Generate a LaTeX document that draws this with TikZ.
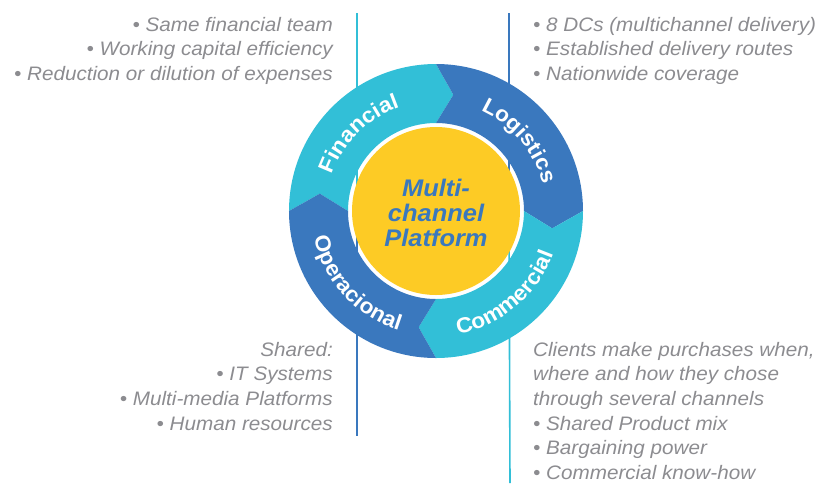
\documentclass[tikz,border=0pt]{standalone}
\usepackage{fontspec}
\setmainfont{Liberation Sans}
\newfontfamily\widesans[FakeStretch=1.06]{Liberation Sans}
\usepackage{tikz}
\usetikzlibrary{decorations.text,positioning}
\definecolor{Cyan}{HTML}{32BFD7}
\definecolor{Blue}{HTML}{3A78BE}
\definecolor{Hub}{HTML}{FDCB25}
\definecolor{Note}{HTML}{8C8C90}
\tikzset{
  note/.style={text=Note,font=\widesans\fontsize{19.5}{24.6}\selectfont\itshape,inner sep=0pt},
  ringtext/.style={decorate,decoration={text along path,text align=center,text color=white,
    text={|\widesans\fontsize{21.5}{21.5}\selectfont\bfseries|#1}}},
  divider/.style={line width=1.6pt}
}

\begin{document}
\begin{tikzpicture}[x=1pt,y=1pt]
\useasboundingbox (-436,-272) rectangle (382,211);
% dividers behind the ring
\coordinate (fintop) at (-79,198);  \coordinate (finfoot) at (-79,0);
\coordinate (logtop) at (73,198);   \coordinate (logfoot) at (73,0);
\coordinate (opfoot) at (-79,-225); \coordinate (comfoot) at (74,-272);
\draw[Cyan,divider] (fintop)--(finfoot);
\draw[Blue,divider] (logtop)--(logfoot);
\draw[Blue,divider] (finfoot)--(opfoot);
\draw[Cyan,divider] (logfoot)--(comfoot);
% ring of four arrows
\foreach \a/\c in {180/Cyan,90/Blue,0/Cyan,-90/Blue}{
  \fill[\c] (\a:147) arc[start angle=\a,end angle=\a-90,radius=147]
    -- (\a-98.5:117.5) -- (\a-90:88) arc[start angle=\a-90,end angle=\a,radius=88]
    -- (\a-8.5:117.5) -- cycle;
}
\fill[Hub] (0,0) circle[radius=84];
\node[text=Blue,align=center,inner sep=0pt,font=\widesans\fontsize{24}{25}\selectfont\bfseries\itshape] (hub) at (0,-2) {Multi-\\channel\\Platform};
\path[ringtext=Financial] (175:110) arc[start angle=175,end angle=95,radius=110];
\path[ringtext=Logistics] (80:110) arc[start angle=80,end angle=0,radius=110];
\path[ringtext=Commercial] (-95:125) arc[start angle=-95,end angle=-5,radius=125];
\path[ringtext=Operacional] (-182:125) arc[start angle=-182,end angle=-93,radius=125];
% notes
\node[note,align=right,anchor=north east] (finlist) at (-103,194)
  {• Same financial team\\• Working capital efficiency\\• Reduction or dilution of expenses};
\node[note,align=left,anchor=north west] (loglist) at (97,194)
  {• 8 DCs (multichannel delivery)\\• Established delivery routes\\• Nationwide coverage};
\node[note,align=right,anchor=north east] (oplist) at (-103,-131)
  {Shared:\\• IT Systems\\• Multi-media Platforms\\• Human resources};
\node[note,align=left,anchor=north west] (comlist) at (97,-131)
  {Clients make purchases when,\\where and how they chose\\through several channels\\• Shared Product mix\\• Bargaining power\\• Commercial know-how};
\end{tikzpicture}
\end{document}
